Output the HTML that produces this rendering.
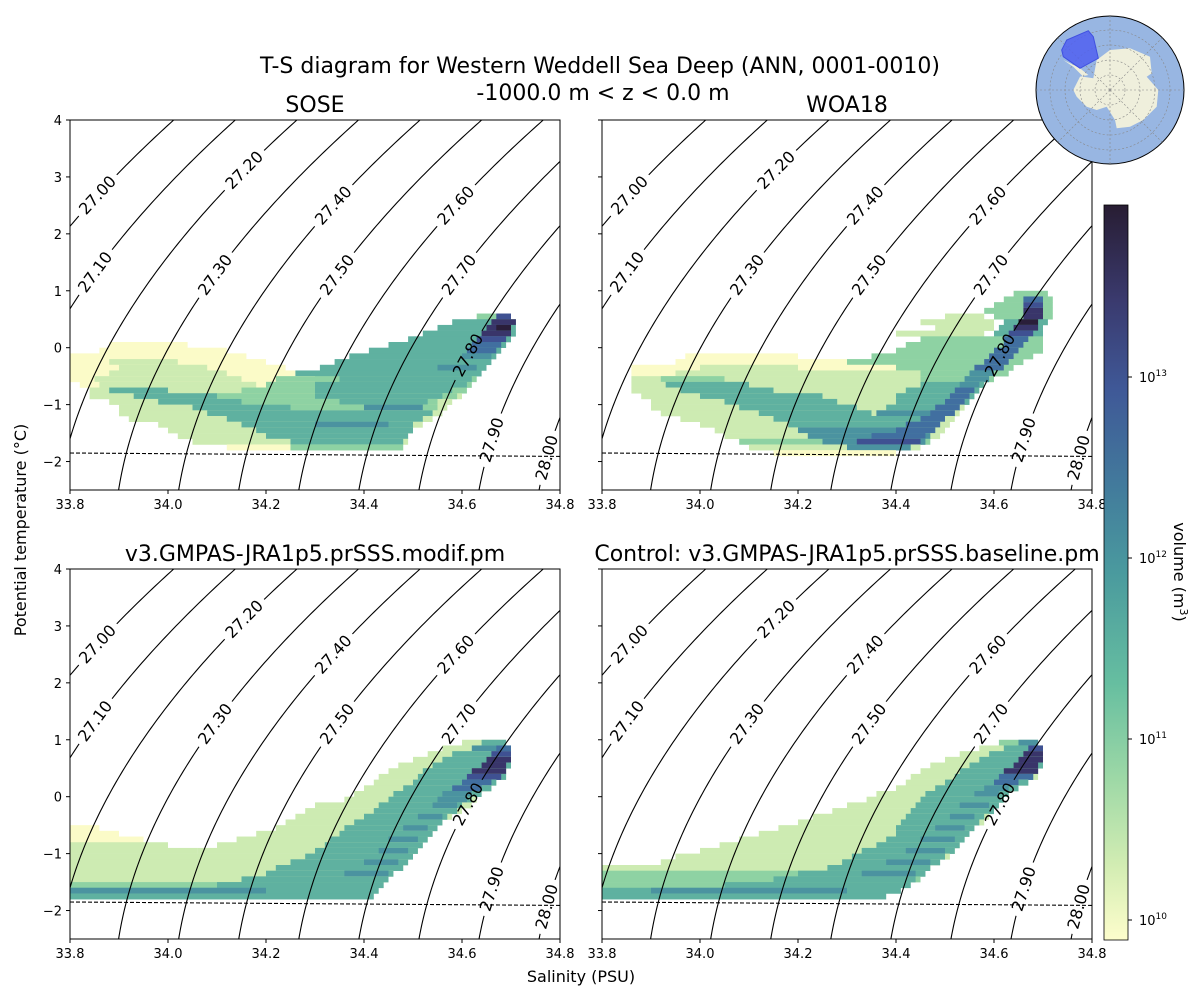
<!DOCTYPE html>
<html><head><meta charset="utf-8">
<style>
html,body{margin:0;padding:0;background:#fff;}
svg text{font-family:"DejaVu Sans","Liberation Sans",sans-serif;}
</style></head>
<body>
<svg id="fig" width="1200" height="1000" viewBox="0 0 1200 1000" xmlns="http://www.w3.org/2000/svg">
<defs>
<linearGradient id="cbgrad" x1="0" y1="1" x2="0" y2="0">
<stop offset="0" stop-color="#fdfdcc"/>
<stop offset="0.1" stop-color="#d3edb3"/>
<stop offset="0.22" stop-color="#9dd8a6"/>
<stop offset="0.35" stop-color="#66bea0"/>
<stop offset="0.5" stop-color="#4a9a9e"/>
<stop offset="0.62" stop-color="#427a9c"/>
<stop offset="0.75" stop-color="#3f5897"/>
<stop offset="0.87" stop-color="#3a3a6e"/>
<stop offset="1" stop-color="#281d33"/>
</linearGradient>
</defs>
<text x="600" y="73" font-size="22" text-anchor="middle">T-S diagram for Western Weddell Sea Deep (ANN, 0001-0010)</text>
<text x="603" y="100" font-size="22" text-anchor="middle">-1000.0 m &lt; z &lt; 0.0 m</text>
<text transform="translate(26,530) rotate(-90)" font-size="16" text-anchor="middle">Potential temperature (°C)</text>
<text x="581" y="982" font-size="16" text-anchor="middle">Salinity (PSU)</text>
</svg>
<script>
// ---- data ----
const densityLevels = [27.0,27.1,27.2,27.3,27.4,27.5,27.6,27.7,27.8,27.9,28.0];
const densityLabels = ["27.00","27.10","27.20","27.30","27.40","27.50","27.60","27.70","27.80","27.90","28.00"];
const labelTemps = [2.68,1.33,3.12,1.28,2.5,1.28,2.5,1.28,-0.13,-1.62,-1.93];
const xTicks = [33.8,34.0,34.2,34.4,34.6,34.8];
const xTickLabels = ["33.8","34.0","34.2","34.4","34.6","34.8"];
const yTicks = [-2,-1,0,1,2,3,4];
const yTickLabels = ["−2","−1","0","1","2","3","4"];
const freezeS = [33.8,34.8];
const freezeT = [-1.85,-1.91];
const cbTickExp = [10,11,12,13];
const levelColors = ["#ffffff","#fbfbc8","#cdebb2","#8ed2a3","#5fb1a0","#4b93a0","#416fa0","#3f5192","#39356a","#2a1e3a"];
// rows: [T bottom, Smin, Smax, level]
const soseRows = [
[0.5,34.63,34.70,3],[0.5,34.67,34.70,7],
[0.4,34.58,34.71,4],[0.4,34.66,34.71,8],
[0.3,34.55,34.71,4],[0.3,34.65,34.70,8],[0.3,34.67,34.70,9],
[0.2,34.52,34.71,4],[0.2,34.64,34.70,8],
[0.1,34.49,34.70,4],[0.1,34.63,34.69,7],
[0.0,33.88,34.04,1],[0.0,34.45,34.69,4],[0.0,34.62,34.68,6],
[-0.1,33.86,34.12,1],[-0.1,34.41,34.68,4],[-0.1,34.61,34.67,6],
[-0.2,33.80,34.16,1],[-0.2,34.37,34.67,4],[-0.2,34.60,34.66,5],
[-0.3,33.80,34.20,1],[-0.3,33.88,34.02,2],[-0.3,34.34,34.66,4],
[-0.4,33.80,34.24,1],[-0.4,33.90,34.08,2],[-0.4,34.31,34.65,4],[-0.4,34.55,34.63,5],
[-0.5,33.80,34.26,1],[-0.5,33.88,34.12,2],[-0.5,34.26,34.64,4],
[-0.6,33.80,34.30,1],[-0.6,33.85,34.15,2],[-0.6,34.22,34.63,3],[-0.6,34.35,34.62,4],
[-0.7,33.82,34.35,1],[-0.7,33.86,34.18,2],[-0.7,34.20,34.62,3],[-0.7,34.30,34.61,4],
[-0.8,33.84,34.40,2],[-0.8,33.88,34.00,4],[-0.8,34.15,34.61,3],[-0.8,34.30,34.58,4],
[-0.9,33.84,34.60,2],[-0.9,33.93,34.10,4],[-0.9,34.10,34.59,3],[-0.9,34.30,34.56,4],
[-1.0,33.88,34.58,2],[-1.0,33.98,34.15,4],[-1.0,34.15,34.55,3],[-1.0,34.35,34.53,4],
[-1.1,33.90,34.57,2],[-1.1,34.05,34.25,4],[-1.1,34.25,34.55,3],[-1.1,34.40,34.52,5],
[-1.2,33.90,34.56,2],[-1.2,34.08,34.30,4],[-1.2,34.30,34.54,4],
[-1.3,33.92,34.54,2],[-1.3,34.12,34.52,4],
[-1.4,33.98,34.52,2],[-1.4,34.15,34.50,4],[-1.4,34.30,34.45,5],
[-1.5,34.00,34.50,2],[-1.5,34.18,34.50,4],
[-1.6,34.02,34.49,2],[-1.6,34.20,34.49,4],
[-1.7,34.05,34.49,2],[-1.7,34.25,34.48,4],
[-1.8,34.12,34.48,1],[-1.8,34.25,34.48,3]
];
const woaRows = [
[0.9,34.64,34.71,3],
[0.8,34.62,34.72,3],[0.8,34.66,34.70,6],
[0.7,34.60,34.72,3],[0.7,34.66,34.70,7],
[0.6,34.58,34.72,3],[0.6,34.66,34.70,8],
[0.5,34.50,34.58,2],[0.5,34.60,34.72,3],[0.5,34.66,34.70,8],
[0.4,34.45,34.60,2],[0.4,34.62,34.71,4],[0.4,34.65,34.69,9],
[0.3,34.48,34.60,2],[0.3,34.61,34.70,4],[0.3,34.64,34.69,8],
[0.2,34.40,34.58,2],[0.2,34.60,34.70,4],[0.2,34.63,34.68,7],
[0.1,34.45,34.70,3],[0.1,34.62,34.67,6],
[0.0,34.42,34.70,3],[0.0,34.62,34.66,6],
[-0.1,34.40,34.70,3],[-0.1,34.60,34.65,6],
[-0.2,33.97,34.20,1],[-0.2,34.35,34.68,3],[-0.2,34.59,34.64,6],
[-0.3,33.95,34.30,1],[-0.3,34.30,34.66,3],[-0.3,34.58,34.63,6],
[-0.4,33.86,34.40,1],[-0.4,34.00,34.20,2],[-0.4,34.40,34.64,3],[-0.4,34.56,34.62,6],
[-0.5,33.86,34.55,1],[-0.5,33.95,34.45,2],[-0.5,34.45,34.63,3],[-0.5,34.55,34.60,5],
[-0.6,33.86,34.60,2],[-0.6,33.92,34.05,3],[-0.6,34.45,34.60,3],[-0.6,34.54,34.59,5],
[-0.7,33.86,34.58,2],[-0.7,33.93,34.10,4],[-0.7,34.45,34.58,4],[-0.7,34.53,34.57,5],
[-0.8,33.86,34.57,2],[-0.8,33.96,34.15,4],[-0.8,34.42,34.57,4],[-0.8,34.52,34.56,6],
[-0.9,33.88,34.56,2],[-0.9,34.00,34.25,4],[-0.9,34.40,34.56,4],[-0.9,34.51,34.55,6],
[-1.0,33.90,34.55,2],[-1.0,34.05,34.28,4],[-1.0,34.40,34.55,4],[-1.0,34.50,34.54,6],
[-1.1,33.90,34.54,2],[-1.1,34.08,34.32,4],[-1.1,34.38,34.53,4],[-1.1,34.48,34.53,6],
[-1.2,33.92,34.53,2],[-1.2,34.12,34.35,4],[-1.2,34.36,34.52,5],[-1.2,34.47,34.52,6],
[-1.3,33.96,34.52,2],[-1.3,34.15,34.50,4],[-1.3,34.45,34.50,6],
[-1.4,34.00,34.51,2],[-1.4,34.18,34.49,4],[-1.4,34.42,34.49,6],
[-1.5,34.03,34.50,2],[-1.5,34.20,34.48,5],[-1.5,34.40,34.48,6],
[-1.6,34.05,34.49,2],[-1.6,34.22,34.47,5],[-1.6,34.35,34.46,6],
[-1.7,34.08,34.47,3],[-1.7,34.25,34.46,5],[-1.7,34.32,34.45,7],
[-1.8,34.10,34.45,2],[-1.8,34.30,34.43,5],
[-1.9,34.15,34.40,1]
];
const modifRows = [
[0.9,34.60,34.69,2],[0.9,34.64,34.69,4],
[0.8,34.56,34.70,2],[0.8,34.62,34.70,5],[0.8,34.67,34.70,6],
[0.7,34.53,34.70,2],[0.7,34.58,34.70,4],[0.7,34.66,34.70,7],
[0.6,34.50,34.70,2],[0.6,34.56,34.70,4],[0.6,34.65,34.70,8],
[0.5,34.47,34.70,2],[0.5,34.54,34.70,4],[0.5,34.64,34.69,8],
[0.4,34.45,34.69,2],[0.4,34.52,34.69,4],[0.4,34.62,34.69,8],
[0.3,34.43,34.69,2],[0.3,34.51,34.69,4],[0.3,34.61,34.68,7],
[0.2,34.42,34.67,2],[0.2,34.50,34.67,4],[0.2,34.60,34.66,6],
[0.1,34.40,34.66,2],[0.1,34.48,34.66,4],[0.1,34.58,34.64,6],
[0.0,34.38,34.64,2],[0.0,34.46,34.64,4],[0.0,34.56,34.62,5],
[-0.1,34.36,34.63,2],[-0.1,34.45,34.62,4],[-0.1,34.55,34.61,5],
[-0.2,34.30,34.62,2],[-0.2,34.43,34.60,4],[-0.2,34.54,34.59,5],
[-0.3,34.28,34.60,2],[-0.3,34.42,34.59,4],
[-0.4,34.26,34.58,2],[-0.4,34.40,34.57,4],[-0.4,34.51,34.56,5],
[-0.5,34.24,34.56,2],[-0.5,34.38,34.56,4],
[-0.6,33.80,33.86,1],[-0.6,34.22,34.55,2],[-0.6,34.36,34.55,4],[-0.6,34.48,34.53,5],
[-0.7,33.80,33.90,1],[-0.7,34.18,34.54,2],[-0.7,34.35,34.54,4],
[-0.8,33.80,33.95,1],[-0.8,34.14,34.53,2],[-0.8,34.33,34.53,4],[-0.8,34.45,34.51,5],
[-0.9,33.80,34.00,2],[-0.9,34.10,34.52,2],[-0.9,34.32,34.52,4],
[-1.0,33.80,34.06,2],[-1.0,34.06,34.51,2],[-1.0,34.30,34.51,4],[-1.0,34.43,34.49,5],
[-1.1,33.80,34.50,2],[-1.1,34.28,34.50,4],
[-1.2,33.80,34.49,2],[-1.2,34.25,34.49,4],[-1.2,34.40,34.47,5],
[-1.3,33.80,34.48,2],[-1.3,34.22,34.48,4],
[-1.4,33.80,34.46,2],[-1.4,34.20,34.46,4],[-1.4,34.36,34.45,5],
[-1.5,33.80,34.45,2],[-1.5,34.15,34.45,4],
[-1.6,33.80,34.44,3],[-1.6,34.10,34.44,4],
[-1.7,33.80,34.43,4],[-1.7,33.80,34.20,5],
[-1.8,33.80,34.42,4]
];
const baseRows = [
[0.9,34.61,34.69,3],[0.9,34.65,34.69,5],
[0.8,34.57,34.70,2],[0.8,34.62,34.70,4],[0.8,34.67,34.70,7],
[0.7,34.53,34.70,2],[0.7,34.59,34.70,4],[0.7,34.66,34.70,8],
[0.6,34.50,34.70,2],[0.6,34.57,34.70,4],[0.6,34.65,34.70,8],
[0.5,34.47,34.70,2],[0.5,34.55,34.70,4],[0.5,34.64,34.69,8],
[0.4,34.45,34.69,2],[0.4,34.53,34.69,4],[0.4,34.62,34.69,8],
[0.3,34.43,34.69,2],[0.3,34.52,34.68,4],[0.3,34.61,34.68,6],
[0.2,34.42,34.67,2],[0.2,34.50,34.67,4],[0.2,34.60,34.65,6],
[0.1,34.40,34.65,2],[0.1,34.48,34.65,4],[0.1,34.58,34.63,5],
[0.0,34.36,34.63,2],[0.0,34.46,34.63,4],[0.0,34.56,34.61,5],
[-0.1,34.34,34.62,2],[-0.1,34.45,34.62,4],
[-0.2,34.30,34.61,2],[-0.2,34.44,34.61,4],[-0.2,34.53,34.59,5],
[-0.3,34.27,34.60,2],[-0.3,34.43,34.60,4],
[-0.4,34.23,34.59,2],[-0.4,34.42,34.58,4],[-0.4,34.51,34.56,5],
[-0.5,34.20,34.58,2],[-0.5,34.41,34.57,4],
[-0.6,34.16,34.56,2],[-0.6,34.40,34.56,4],[-0.6,34.48,34.54,5],
[-0.7,34.12,34.55,2],[-0.7,34.40,34.55,4],
[-0.8,34.08,34.54,2],[-0.8,34.38,34.54,4],[-0.8,34.45,34.52,5],
[-0.9,34.04,34.53,2],[-0.9,34.36,34.53,4],
[-1.0,34.00,34.52,2],[-1.0,34.33,34.52,4],[-1.0,34.42,34.50,5],
[-1.1,33.95,34.51,2],[-1.1,34.31,34.50,4],
[-1.2,33.92,34.49,2],[-1.2,34.29,34.49,4],[-1.2,34.38,34.47,5],
[-1.3,33.80,34.47,2],[-1.3,34.26,34.47,4],
[-1.4,33.80,34.46,3],[-1.4,34.20,34.46,4],[-1.4,34.33,34.44,5],
[-1.5,33.80,34.45,3],[-1.5,34.15,34.44,4],
[-1.6,33.80,34.43,3],[-1.6,34.05,34.43,4],
[-1.7,33.80,34.41,4],[-1.7,33.90,34.30,5],
[-1.8,33.80,34.38,4]
];

// ---- helpers ----
const NS = "http://www.w3.org/2000/svg";
const fig = document.getElementById('fig');
function mk(tag, attrs, parent){
  const e = document.createElementNS(NS, tag);
  for (const k in attrs) e.setAttribute(k, attrs[k]);
  (parent||fig).appendChild(e);
  return e;
}
function rho(S,T){
  const rw = 999.842594 + 6.793952e-2*T - 9.095290e-3*T*T + 1.001685e-4*T**3 - 1.120083e-6*T**4 + 6.536332e-9*T**5;
  const A = 0.824493 - 4.0899e-3*T + 7.6438e-5*T*T - 8.2467e-7*T**3 + 5.3875e-9*T**4;
  const B = -5.72466e-3 + 1.0227e-4*T - 1.6546e-6*T*T;
  return rw + A*S + B*Math.pow(S,1.5) + 4.8314e-4*S*S;
}
function solveS(sig,T){
  let S = 34.5;
  for (let i=0;i<20;i++){
    const f = rho(S,T)-1000-sig;
    const d = (rho(S+1e-4,T)-rho(S-1e-4,T))/2e-4;
    S -= f/d;
  }
  return S;
}
const W=490, H=370, smin=33.8, smax=34.8, tmin=-2.5, tmax=4;
let pid=0;
function panel(ox, oy, rows, title, showY, name){
  pid++;
  const xs = s => ox + (s-smin)/(smax-smin)*W;
  const ys = t => oy + (tmax-t)/(tmax-tmin)*H;
  const g = mk('g',{});
  
  
  const defs = mk('defs',{},g);
  const cp = mk('clipPath',{id:'clip'+pid},defs);
  mk('rect',{x:ox,y:oy,width:W,height:H},cp);
  const mask = mk('mask',{id:'mask'+pid, maskUnits:'userSpaceOnUse', x:0,y:0,width:1200,height:1000},defs);
  mk('rect',{x:0,y:0,width:1200,height:1000,fill:'#fff'},mask);
  const hg = mk('g',{'clip-path':'url(#clip'+pid+')'},g);
  
  
  rows.forEach(r=>{
    const x0=xs(r[1]), x1=xs(r[2]), y0=ys(r[0]+0.1), y1=ys(r[0]);
    const c = mk('rect',{x:x0.toFixed(2),y:y0.toFixed(2),width:(x1-x0).toFixed(2),height:(y1-y0+0.3).toFixed(2),fill:levelColors[r[3]]},hg);
    
    
  });
  const labels = [];
  densityLevels.forEach((lv,i)=>{
    const T = labelTemps[i];
    const S = solveS(lv,T);
    const p1x = xs(solveS(lv,T-0.05)), p1y = ys(T-0.05);
    const p2x = xs(solveS(lv,T+0.05)), p2y = ys(T+0.05);
    const ang = Math.atan2(p2y-p1y, p2x-p1x)*180/Math.PI;
    const cx = xs(S), cy = ys(T);
    labels.push([cx,cy,ang,densityLabels[i]]);
    mk('rect',{x:-28,y:-9,width:56,height:18,fill:'#000',transform:`translate(${cx},${cy}) rotate(${ang})`},mask);
  });
  const cg = mk('g',{'clip-path':'url(#clip'+pid+')'},g);
  const cg2 = mk('g',{mask:'url(#mask'+pid+')'},cg);
  densityLevels.forEach((lv,i)=>{
    let d='';
    for (let t=tmin-0.2; t<=tmax+0.2; t+=0.05){
      d += (d?'L':'M') + xs(solveS(lv,t)).toFixed(2)+','+ys(t).toFixed(2);
    }
    const p = mk('path',{d:d,fill:'none',stroke:'#000','stroke-width':1.1},cg2);
    
    
  });
  labels.forEach(l=>{
    const t = mk('text',{'font-size':16,'text-anchor':'middle','dominant-baseline':'central',transform:`translate(${l[0].toFixed(1)},${l[1].toFixed(1)}) rotate(${l[2].toFixed(1)})`},cg);
    t.textContent = l[3];
    
    
  });
  const fl = mk('line',{x1:xs(freezeS[0]),y1:ys(freezeT[0]),x2:xs(freezeS[1]),y2:ys(freezeT[1]),stroke:'#000','stroke-width':1.1,'stroke-dasharray':'4,2'},g);
  
  
  const fr = mk('rect',{x:ox,y:oy,width:W,height:H,fill:'none',stroke:'#000','stroke-width':1},g);
  
  
  xTicks.forEach((v,i)=>{
    mk('line',{x1:xs(v),x2:xs(v),y1:oy+H,y2:oy+H+4,stroke:'#000'},g);
    const t = mk('text',{x:xs(v),y:oy+H+19,'font-size':13,'text-anchor':'middle'},g);
    t.textContent = xTickLabels[i];
    
    
  });
  yTicks.forEach((v,i)=>{
    mk('line',{x1:ox-4,x2:ox,y1:ys(v),y2:ys(v),stroke:'#000'},g);
    if (showY){
      const t = mk('text',{x:ox-8,y:ys(v)+5,'font-size':13,'text-anchor':'end'},g);
      t.textContent = yTickLabels[i];
      
      
    }
  });
  const tt = mk('text',{x:ox+W/2,y:oy-8,'font-size':22,'text-anchor':'middle'},g);
  tt.textContent = title;
  
  
}
panel(70,120,soseRows,'SOSE',true,'panel-sose');
panel(602,120,woaRows,'WOA18',false,'panel-woa18');
panel(70,569,modifRows,'v3.GMPAS-JRA1p5.prSSS.modif.pm',true,'panel-modif');
panel(602,569,baseRows,'Control: v3.GMPAS-JRA1p5.prSSS.baseline.pm',false,'panel-control');

// ---- colorbar ----
const cb = mk('g',{});


mk('rect',{x:1104,y:205,width:24,height:735,fill:'url(#cbgrad)',stroke:'#000','stroke-width':0.8},cb);
const cbY = e => 920 - (e-10)*181;
cbTickExp.forEach(e=>{
  const y = cbY(e);
  mk('line',{x1:1128,x2:1132,y1:y,y2:y,stroke:'#000'},cb);
  const t = mk('text',{x:1139,y:y+5,'font-size':13},cb);
  t.textContent = '10';
  
  
  const s = mk('tspan',{dy:-6,'font-size':9},t);
  s.textContent = String(e);
});
const cl = mk('text',{transform:'translate(1174,572) rotate(90)','font-size':16,'text-anchor':'middle'},cb);
cl.textContent = 'volume (m';
const cls = mk('tspan',{dy:-6,'font-size':11},cl);
cls.textContent = '3';
const cle = mk('tspan',{dy:6},cl);
cle.textContent = ')';



// ---- inset map ----
const im = mk('g',{});


mk('circle',{cx:1110,cy:90,r:74,fill:'#98b6e2',stroke:'#000','stroke-width':1},im);
const ant = [[200,150],[240,120],[300,115],[360,140],[365,190],[350,200],[385,240],[380,290],[340,330],[300,350],[260,355],[255,330],[230,290],[200,300],[170,290],[140,260],[130,240],[150,200],[175,195],[150,175],[120,160],[100,150],[130,170],[160,200],[190,205]];
mk('polygon',{points:ant.map(p=>(p[0]/3+1030).toFixed(1)+','+(p[1]/3+10).toFixed(1)).join(' '),fill:'#efefdc'},im);
[15,30,45,60].forEach(r=>mk('circle',{cx:1110,cy:90,r:r,fill:'none',stroke:'#888','stroke-width':0.6,'stroke-dasharray':'2,2'},im));
for (let a=0;a<360;a+=45){
  const rad=a*Math.PI/180;
  mk('line',{x1:1110,y1:90,x2:1110+74*Math.cos(rad),y2:90+74*Math.sin(rad),stroke:'#888','stroke-width':0.6,'stroke-dasharray':'2,2'},im);
}
const reg = [[95,120],[110,90],[175,62],[190,80],[205,145],[150,175],[100,140]];
const rp = mk('polygon',{points:reg.map(p=>(p[0]/3+1030).toFixed(1)+','+(p[1]/3+10).toFixed(1)).join(' '),fill:'#5060f0','fill-opacity':0.85,stroke:'#4050e0'},im);


</script>
</body></html>
